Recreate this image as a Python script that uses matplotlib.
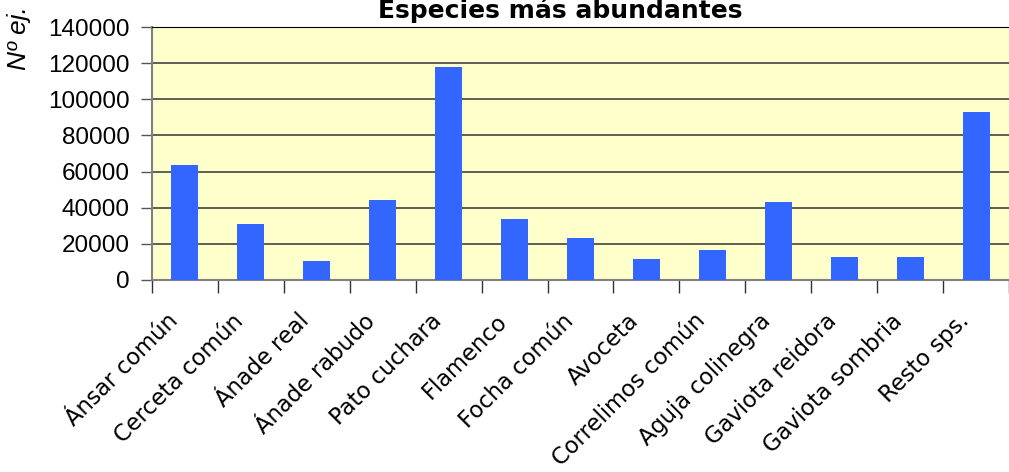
import matplotlib
matplotlib.use("Agg")
import matplotlib.pyplot as plt
import matplotlib.transforms as mtransforms
import numpy as np

categories = ["Ánsar común", "Cerceta común", "Ánade real", "Ánade rabudo",
              "Pato cuchara", "Flamenco", "Focha común", "Avoceta",
              "Correlimos común", "Aguja colinegra", "Gaviota reidora",
              "Gaviota sombria", "Resto sps."]
values = [63800, 31100, 10700, 44400, 118000, 33900, 23400, 11800,
          16800, 43300, 12900, 12900, 93100]
yticks = [0, 20000, 40000, 60000, 80000, 100000, 120000, 140000]
title = "Especies más abundantes"
ylabel = "Nº ej."

W, H = 1009, 472
fig = plt.figure(figsize=(W/100, H/100), dpi=100)
ax = fig.add_axes([152/W, 1-280/H, 1-152/W, (280-27)/H])
ax.set_facecolor("#FFFFCC")

x = np.arange(len(categories))
ax.bar(x, values, width=0.41, color="#3366FF", zorder=3)
ax.set_xlim(-0.5, len(categories)-0.5)
ax.set_ylim(0, 140000)
ax.set_yticks(yticks)
ax.set_yticklabels([str(v) for v in yticks], fontfamily="Liberation Sans", fontsize=17.5)
ax.yaxis.grid(True, color="#333333", linewidth=1.1, zorder=1)
ax.set_axisbelow(True)

# x ticks at category boundaries, labels at centers
ax.set_xticks(np.arange(len(categories)+1)-0.5)
ax.set_xticklabels([])
ax.set_xticks(x, minor=True)
ax.set_xticklabels(categories, minor=True, rotation=45, ha="right",
                   rotation_mode="anchor", fontfamily="DejaVu Sans", fontsize=16.3)
ax.tick_params(axis="x", which="minor", length=0, pad=14)
ax.tick_params(axis="x", which="major", length=9, color="#333333", width=1)
ax.tick_params(axis="y", length=8, color="#555555", width=1, pad=8)

offset = mtransforms.ScaledTranslation(-19/100, -10/100, fig.dpi_scale_trans)
for lab in ax.get_xticklabels(minor=True):
    lab.set_transform(lab.get_transform() + offset)

ax.spines["right"].set_visible(False)
ax.spines["top"].set_color("#000000")
ax.spines["left"].set_color("#808080")
ax.spines["left"].set_linewidth(1.5)
ax.spines["bottom"].set_color("#808080")
ax.spines["bottom"].set_linewidth(1.5)

fig.text(560/W, 1-18/H, title, ha="center", va="baseline",
         fontsize=18, fontweight="bold", fontfamily="DejaVu Sans")
fig.text(19/W, 1-38/H, ylabel, ha="center", va="center", rotation=90,
         fontsize=19, fontstyle="italic", fontfamily="Liberation Sans")

fig.savefig("out.png", dpi=100)
